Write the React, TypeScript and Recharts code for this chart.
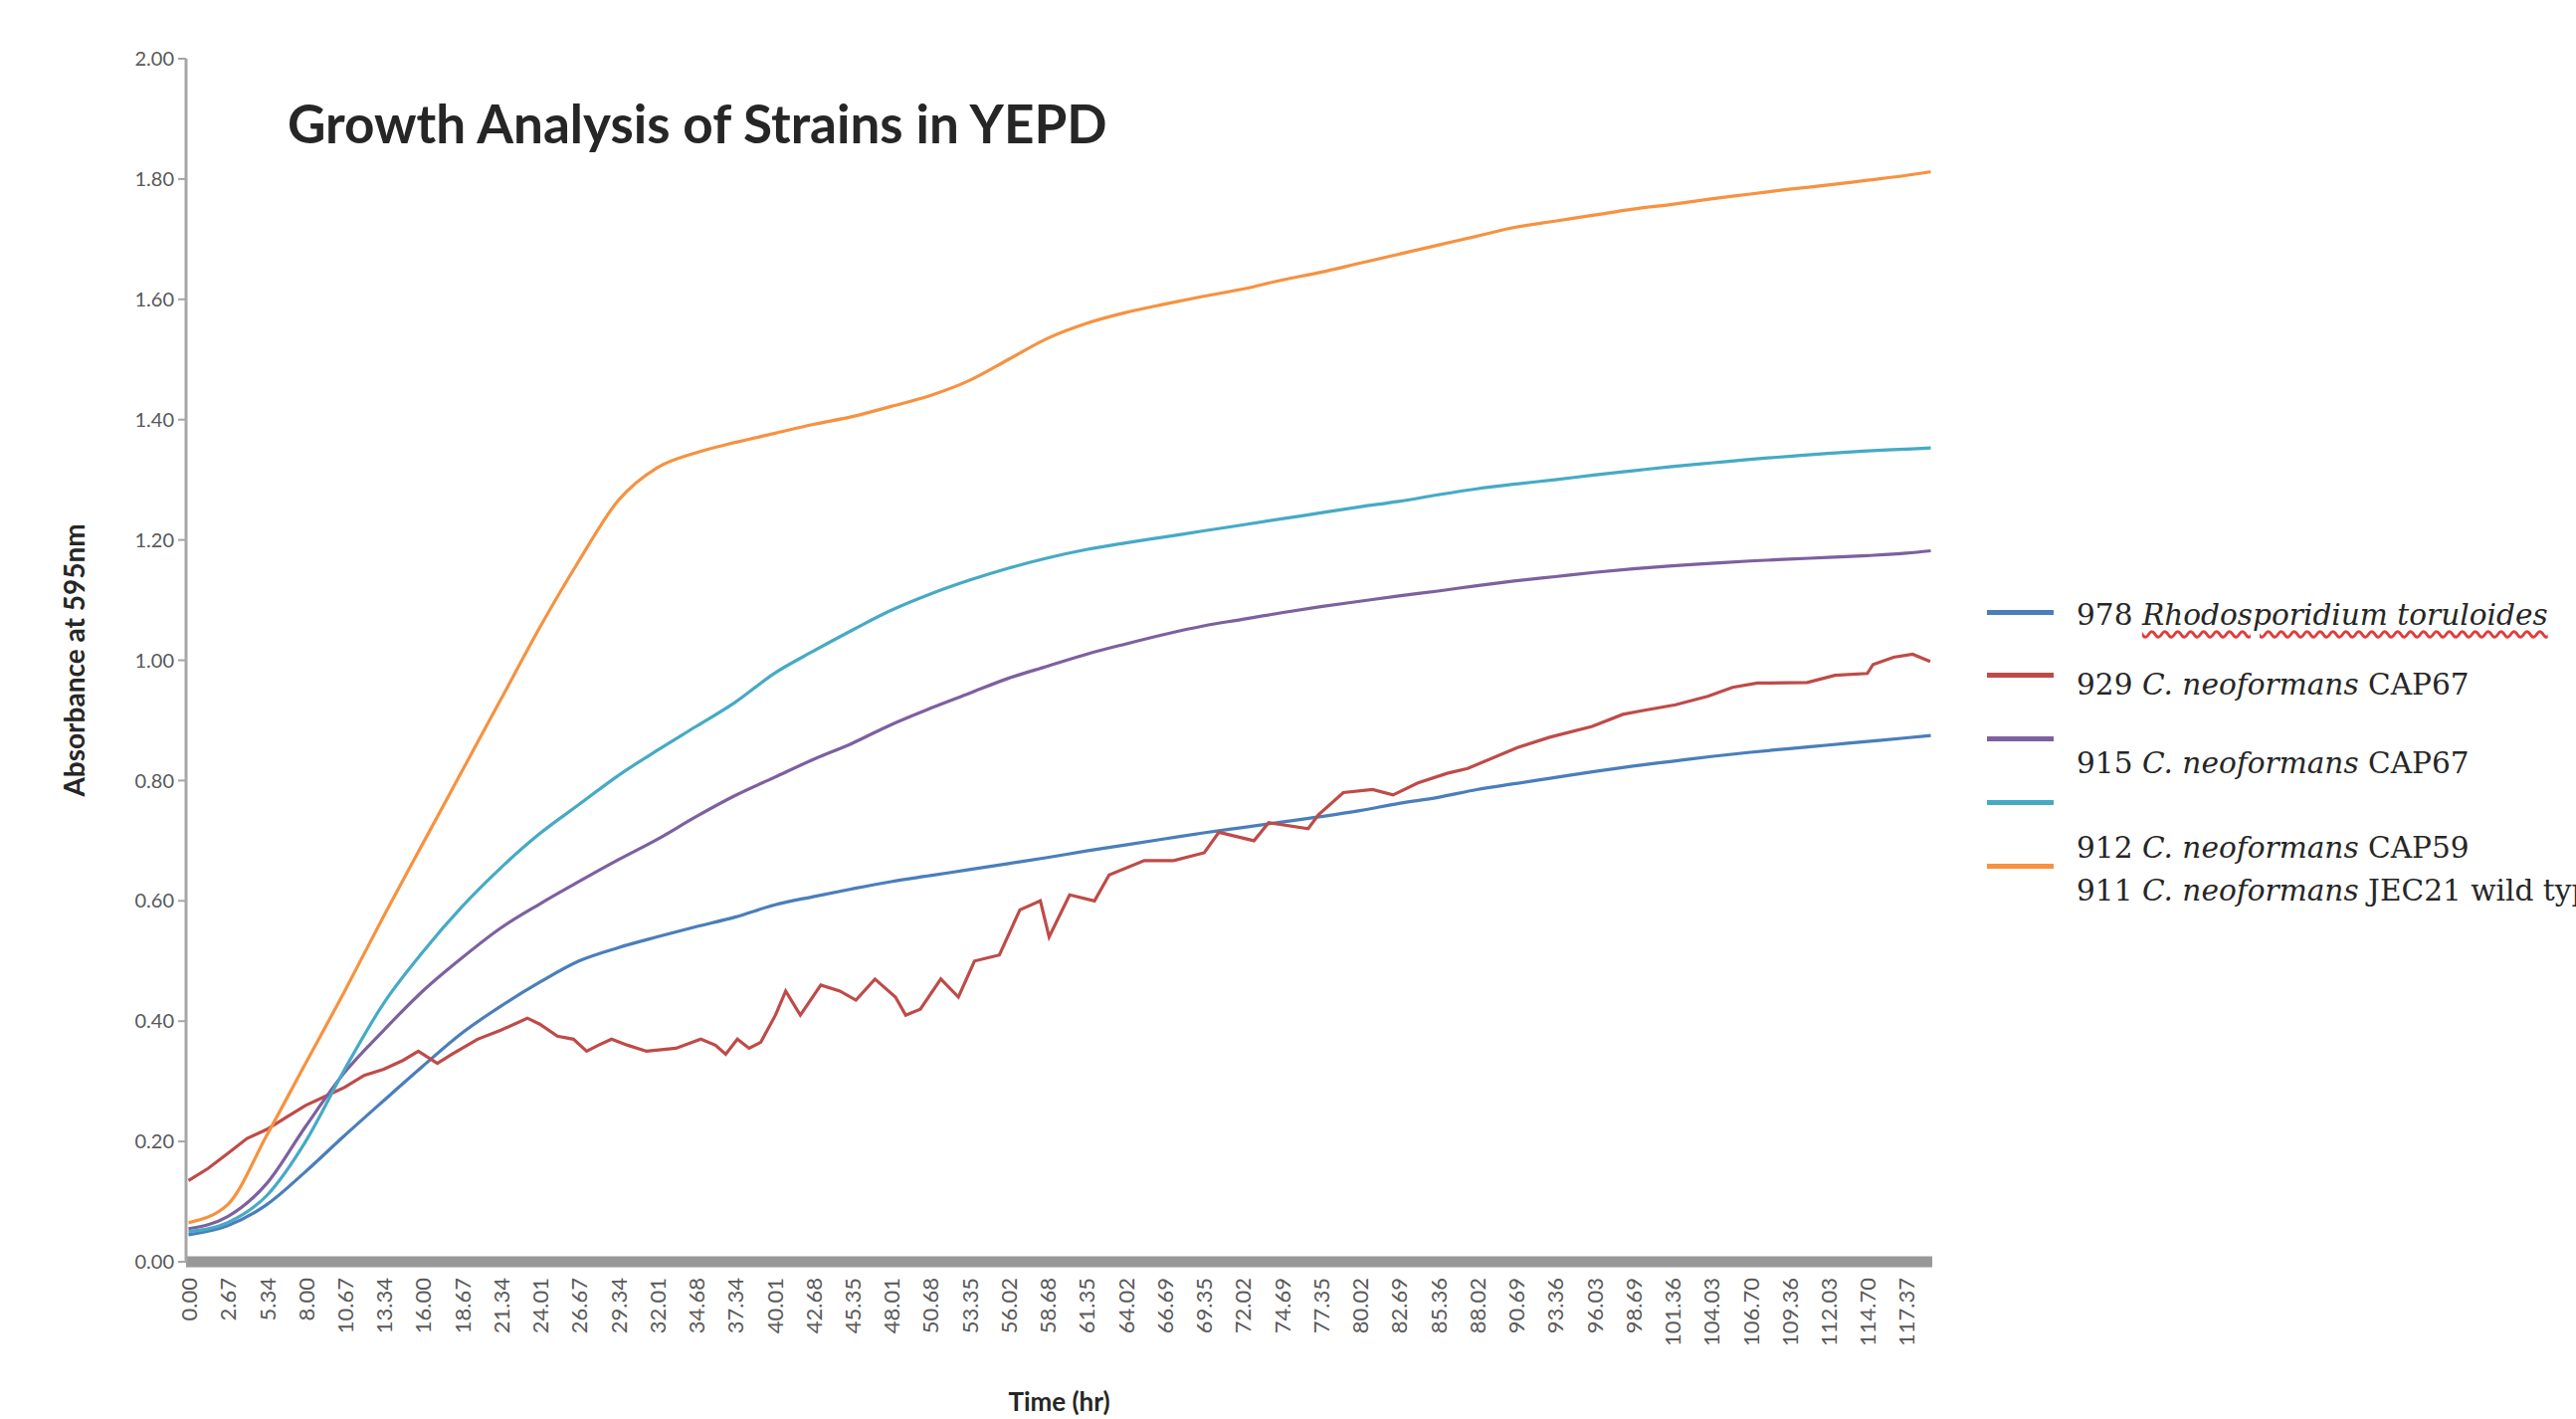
import React from 'react';
import { LineChart, Line, XAxis, YAxis } from 'recharts';

// ---------- data ----------
const TIME_LABELS = ['0.00','2.67','5.34','8.00','10.67','13.34','16.00','18.67','21.34','24.01','26.67','29.34','32.01','34.68','37.34','40.01','42.68','45.35','48.01','50.68','53.35','56.02','58.68','61.35','64.02','66.69','69.35','72.02','74.69','77.35','80.02','82.69','85.36','88.02','90.69','93.36','96.03','98.69','101.36','104.03','106.70','109.36','112.03','114.70','117.37'];

const SMOOTH_TIMES = [0,2.67,5.34,8.0,10.67,13.34,16.0,18.67,21.34,24.01,26.67,29.34,32.01,34.68,37.34,40.01,42.68,45.35,48.01,50.68,53.35,56.02,58.68,61.35,64.02,66.69,69.35,72.02,74.69,77.35,80.02,82.69,85.36,88.02,90.69,93.36,96.03,98.69,101.36,104.03,106.7,109.36,112.03,114.7,117.37,119.04];

const S978 = [0.045,0.06,0.095,0.15,0.21,0.268,0.325,0.38,0.425,0.465,0.5,0.522,0.54,0.557,0.573,0.593,0.607,0.62,0.632,0.642,0.652,0.662,0.672,0.683,0.693,0.703,0.713,0.722,0.731,0.74,0.75,0.762,0.772,0.785,0.795,0.805,0.815,0.824,0.832,0.84,0.847,0.853,0.859,0.865,0.871,0.875];
const S915 = [0.055,0.075,0.13,0.225,0.315,0.385,0.45,0.505,0.555,0.595,0.632,0.668,0.702,0.74,0.775,0.805,0.835,0.862,0.893,0.92,0.945,0.97,0.99,1.01,1.027,1.043,1.057,1.068,1.079,1.089,1.098,1.107,1.115,1.124,1.132,1.139,1.146,1.152,1.157,1.161,1.165,1.168,1.171,1.174,1.178,1.182];
const S912 = [0.05,0.065,0.11,0.2,0.32,0.43,0.515,0.59,0.655,0.712,0.76,0.808,0.85,0.89,0.93,0.978,1.015,1.05,1.083,1.11,1.133,1.153,1.17,1.184,1.195,1.205,1.215,1.225,1.235,1.245,1.255,1.264,1.275,1.285,1.293,1.3,1.308,1.315,1.322,1.328,1.334,1.339,1.344,1.348,1.351,1.353];
const S911 = [0.065,0.095,0.21,0.33,0.45,0.575,0.695,0.815,0.935,1.055,1.165,1.265,1.32,1.345,1.362,1.377,1.392,1.405,1.422,1.44,1.465,1.5,1.535,1.56,1.578,1.592,1.605,1.617,1.632,1.645,1.66,1.675,1.69,1.705,1.72,1.73,1.74,1.75,1.758,1.767,1.775,1.783,1.79,1.798,1.806,1.812];

const RED_TIMES = [0,1.33,2.67,4.0,5.34,6.67,8.0,9.34,10.67,12.0,13.34,14.67,15.7,17.0,18.0,19.75,21.34,23.15,24.0,25.2,26.3,27.2,28.0,28.9,30.0,31.3,33.3,35.0,36.0,36.7,37.5,38.3,39.1,40.1,40.8,41.8,43.2,44.5,45.6,46.9,48.3,49.0,50.0,51.4,52.6,53.7,55.4,56.8,58.2,58.8,60.2,61.9,62.9,65.3,67.3,69.4,70.4,72.8,73.8,76.5,77.2,78.9,80.9,82.3,84.0,86.0,87.4,90.8,93.0,95.9,98.0,99.3,101.6,103.8,105.5,107.2,110.6,112.5,114.7,115.1,116.5,117.8,119.0];
const S929 = [0.135,0.155,0.18,0.205,0.22,0.24,0.26,0.275,0.29,0.31,0.32,0.335,0.35,0.33,0.345,0.37,0.385,0.405,0.395,0.375,0.37,0.35,0.36,0.37,0.36,0.35,0.355,0.37,0.36,0.345,0.37,0.355,0.365,0.41,0.45,0.41,0.46,0.45,0.435,0.47,0.44,0.41,0.42,0.47,0.44,0.5,0.51,0.585,0.6,0.54,0.61,0.6,0.643,0.667,0.667,0.68,0.714,0.7,0.73,0.72,0.743,0.78,0.785,0.776,0.796,0.812,0.82,0.855,0.872,0.89,0.91,0.916,0.926,0.94,0.955,0.962,0.963,0.975,0.978,0.993,1.005,1.01,0.998];

const Y_TICKS = [0, 0.2, 0.4, 0.6, 0.8, 1.0, 1.2, 1.4, 1.6, 1.8, 2.0];

const LEGEND_IDS = ['978', '929', '915', '912', '911'];
const LEGEND_SPECIES = ['Rhodosporidium toruloides', 'C. neoformans', 'C. neoformans', 'C. neoformans', 'C. neoformans'];
const LEGEND_STRAINS = ['', 'CAP67', 'CAP67', 'CAP59', 'JEC21 wild type'];
const COLORS = ['#4A7EBB', '#BE4B48', '#7D60A0', '#46AAC5', '#F69240'];

const TITLE = 'Growth Analysis of Strains in YEPD';
const Y_LABEL = 'Absorbance at 595nm';
const X_LABEL = 'Time (hr)';

// ---------- layout ----------
const W = 2589;
const H = 1426;
const MARGIN = { top: 59, right: 647, bottom: 0, left: 0 };

const toRows = (times: number[], vals: number[]) => times.map((t, i) => ({ t, v: vals[i] }));

const SERIES = [
  { id: '978', rows: toRows(SMOOTH_TIMES, S978), curve: 'monotone' },
  { id: '929', rows: toRows(RED_TIMES, S929), curve: 'linear' },
  { id: '915', rows: toRows(SMOOTH_TIMES, S915), curve: 'monotone' },
  { id: '912', rows: toRows(SMOOTH_TIMES, S912), curve: 'monotone' },
  { id: '911', rows: toRows(SMOOTH_TIMES, S911), curve: 'monotone' },
];

const X_TICKS = TIME_LABELS.map(Number);

const XTick = (props: any) => {
  const { x, y, payload, index } = props;
  const label = TIME_LABELS[index] ?? Number(payload.value).toFixed(2);
  return (
    <text
      x={x}
      y={y}
      transform={`rotate(-90 ${x} ${y})`}
      textAnchor="end"
      dominantBaseline="central"
      fill="#595959"
      fontSize={22}
      fontFamily="Lato"
    >
      {label}
    </text>
  );
};

const YLabel = (props: any) => {
  const vb = props.viewBox || {};
  const cx = 74;
  const cy = (vb.y ?? 59) + (vb.height ?? 1209) / 2;
  return (
    <text
      x={cx}
      y={cy}
      transform={`rotate(-90 ${cx} ${cy})`}
      textAnchor="middle"
      dominantBaseline="central"
      fill="#262626"
      fontSize={28}
      fontWeight={700}
      fontFamily="Lato"
    >
      {Y_LABEL}
    </text>
  );
};

const XLabel = (props: any) => {
  const vb = props.viewBox || {};
  const cx = (vb.x ?? 187) + (vb.width ?? 1755) / 2;
  const cy = (vb.y ?? 1268) + 140;
  return (
    <text
      x={cx}
      y={cy}
      textAnchor="middle"
      dominantBaseline="central"
      fill="#262626"
      fontSize={26}
      fontWeight={700}
      fontFamily="Lato"
    >
      {X_LABEL}
    </text>
  );
};

const LEGEND_LINE_Y = [615, 678, 742, 806, 870];
const LEGEND_TEXT_Y = [618, 688, 767, 852, 895];

const Legendary = () => (
  <>
    {LEGEND_IDS.map((id, i) => (
      <div
        key={'l' + id}
        style={{
          position: 'absolute',
          left: 1997,
          top: LEGEND_LINE_Y[i] - 2.5,
          width: 67,
          height: 5,
          background: COLORS[i],
        }}
      />
    ))}
    {LEGEND_IDS.map((id, i) => (
      <div
        key={'t' + id}
        style={{
          position: 'absolute',
          left: 2087,
          top: LEGEND_TEXT_Y[i] - 25,
          height: 50,
          display: 'flex',
          alignItems: 'center',
          whiteSpace: 'nowrap',
          fontFamily: '"DejaVu Serif", serif',
          fontSize: 29.6,
          color: '#262626',
        }}
      >
        <span>{id}&nbsp;</span>
        <span
          style={{
            fontStyle: 'italic',
            ...(i === 0
              ? {
                  textDecorationLine: 'underline',
                  textDecorationStyle: 'wavy',
                  textDecorationColor: '#E03C3C',
                  textUnderlineOffset: 5,
                }
              : {}),
          }}
        >
          {LEGEND_SPECIES[i]}
        </span>
        {LEGEND_STRAINS[i] ? <span>&nbsp;{LEGEND_STRAINS[i]}</span> : null}
      </div>
    ))}
  </>
);

export default function App() {
  return (
    <div
      style={{
        position: 'fixed',
        left: 0,
        top: 0,
        width: W,
        height: H,
        overflow: 'hidden',
        background: '#ffffff',
      }}
    >
      <LineChart width={W} height={H} margin={MARGIN}>
        <XAxis
          dataKey="t"
          type="number"
          domain={[-0.17, 119.14]}
          allowDataOverflow
          ticks={X_TICKS}
          interval={0}
          tick={<XTick />}
          tickLine={false}
          tickSize={6}
          tickMargin={10}
          axisLine={{ stroke: '#989898', strokeWidth: 11 }}
          height={158}
          label={<XLabel />}
        />
        <YAxis
          type="number"
          domain={[0, 2]}
          ticks={Y_TICKS}
          interval={0}
          width={187}
          tickFormatter={(v: number) => v.toFixed(2)}
          tick={{ fill: '#595959', fontSize: 20, fontFamily: 'Lato' }}
          tickSize={8}
          tickMargin={4}
          tickLine={{ stroke: '#a6a6a6', strokeWidth: 2 }}
          axisLine={{ stroke: '#a6a6a6', strokeWidth: 3 }}
          label={<YLabel />}
        />
        {SERIES.map((s, i) => (
          <Line
            key={s.id}
            data={s.rows}
            dataKey="v"
            type={s.curve as any}
            stroke={COLORS[i]}
            strokeWidth={3.2}
            dot={false}
            activeDot={false}
            isAnimationActive={false}
          />
        ))}
      </LineChart>
      <svg
        width={W}
        height={H}
        style={{ position: 'absolute', left: 0, top: 0, pointerEvents: 'none' }}
      >
        <text x={289} y={144} fontFamily="Lato" fontWeight={700} fontSize={53} fill="#262626">
          {TITLE}
        </text>
      </svg>
      <Legendary />
    </div>
  );
}
